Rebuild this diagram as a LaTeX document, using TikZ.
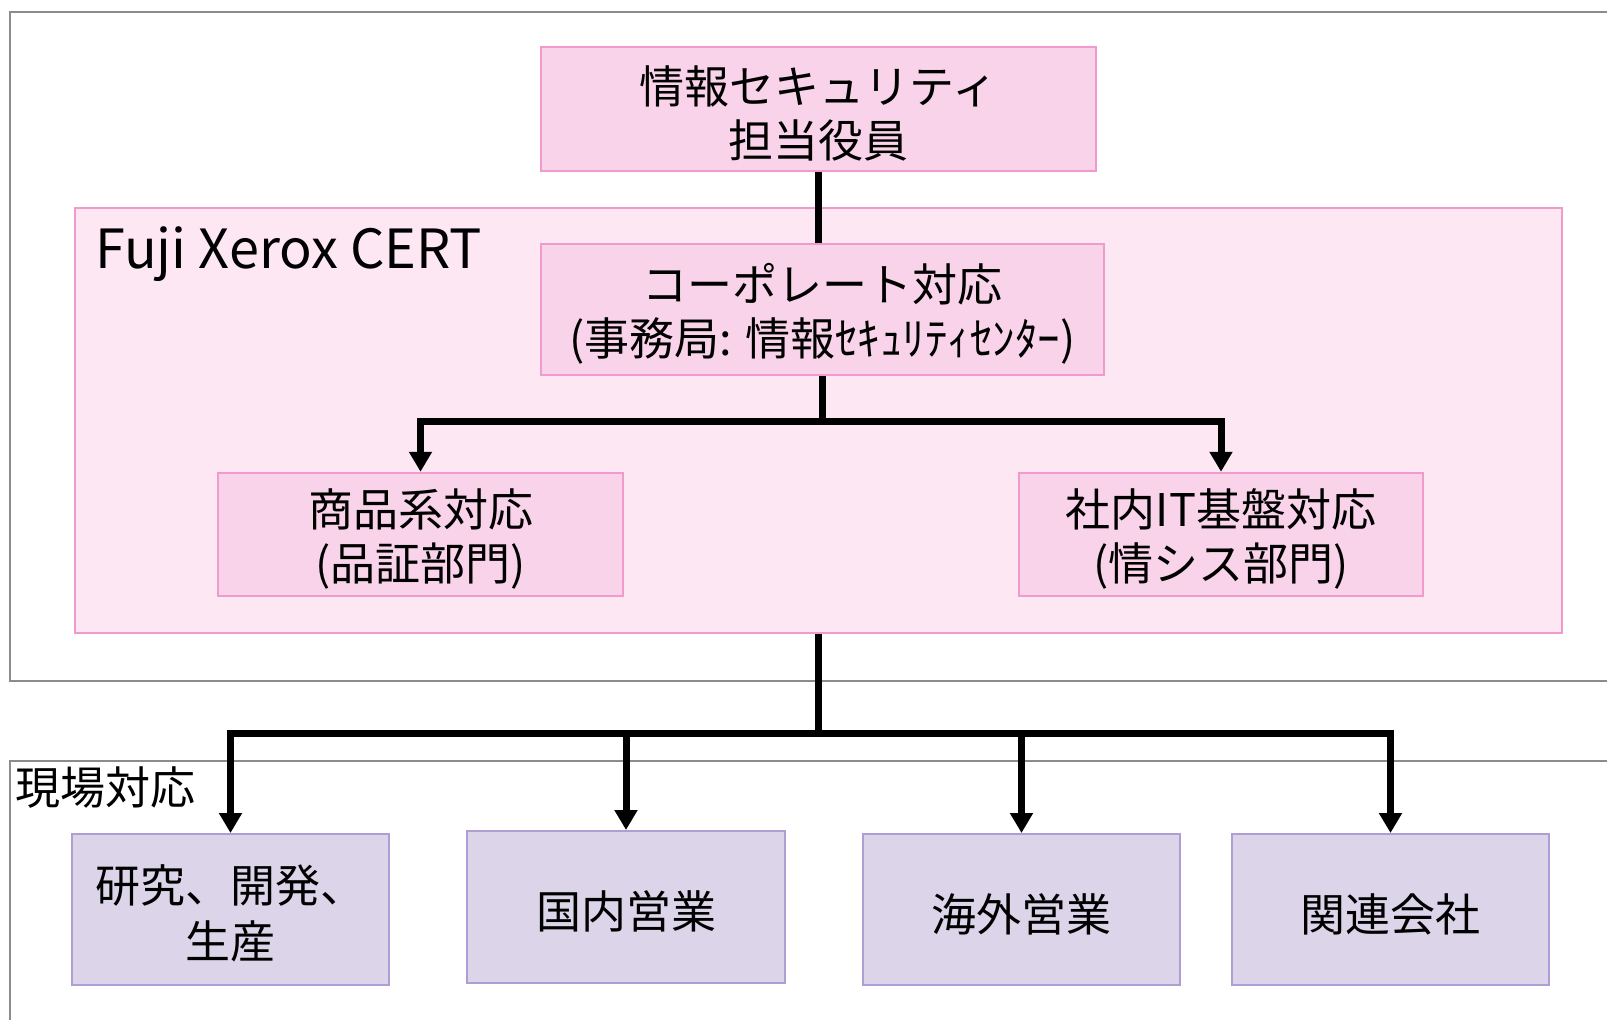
\documentclass[tikz,border=0pt]{standalone}
\usepackage{fontspec}
\setmainfont{Noto Sans CJK JP}
\usetikzlibrary{arrows.meta}
\definecolor{pinkfill}{HTML}{F8D3E9}
\definecolor{certfill}{HTML}{FCE7F3}
\definecolor{pinkline}{HTML}{F09BCB}
\definecolor{purfill}{HTML}{DCD5EA}
\definecolor{purline}{HTML}{AE9ED3}
\definecolor{grayline}{HTML}{8C8C8C}
\newcommand\lowfix{\rule{0pt}{46pt}}
\tikzset{
  pinkbox/.style={draw=pinkline, fill=pinkfill, line width=2.5pt, inner sep=0pt, align=center,
    font=\fontsize{45pt}{54pt}\selectfont},
  purbox/.style={draw=purline, fill=purfill, line width=2pt, inner sep=0pt, align=center,
    font=\fontsize{45pt}{56pt}\selectfont, execute at begin node={\rule{0pt}{47pt}}},
  certbox/.style={draw=pinkline, fill=certfill, line width=2.5pt, inner sep=0pt},
  framebox/.style={draw=grayline, line width=2pt},
  conn/.style={line width=7pt, draw=black, line join=miter},
  arr/.style={conn, -{Triangle[width=22pt,length=20pt]}},
}
\begin{document}
\begin{tikzpicture}[x=1pt,y=-1pt]
\useasboundingbox (0,0) rectangle (1607,1020);
\begin{scope}
\clip (0,0) rectangle (1607,1020);
\draw[framebox] (10,12) rectangle (1700,681);
\draw[framebox] (10,761) rectangle (1700,1100);
\end{scope}
\node[certbox, minimum width=1487pt, minimum height=425pt] (cert) at (818.5,420.5) {};
\node[anchor=base west, inner sep=0pt, font=\fontsize{54pt}{60pt}\selectfont] (certlabel) at (95,268) {Fuji Xerox CERT};
\node[anchor=base west, inner sep=0pt, font=\fontsize{45pt}{54pt}\selectfont] (genba) at (15,804) {現場対応};

\node[pinkbox, minimum width=555pt, minimum height=124pt] (top) at (818.5,109) {\lowfix 情報セキュリティ\\担当役員};
\node[pinkbox, minimum width=563pt, minimum height=131pt] (corp) at (822.5,309.5) {\lowfix コーポレート対応\\(事務局: 情報ｾｷｭﾘﾃｨｾﾝﾀｰ)};
\node[pinkbox, minimum width=405pt, minimum height=123pt] (qa) at (420.5,534.5) {\lowfix 商品系対応\\(品証部門)};
\node[pinkbox, minimum width=404pt, minimum height=123pt] (it) at (1221,534.5) {\lowfix 社内IT基盤対応\\(情シス部門)};

\node[purbox, minimum width=317pt, minimum height=151pt] (rd) at (230.5,909.5) {\lowfix 研究、開発、\\生産};
\node[purbox, minimum width=318pt, minimum height=152pt] (dom) at (626,907) {国内営業};
\node[purbox, minimum width=317pt, minimum height=151pt] (ovs) at (1021.5,909.5) {海外営業};
\node[purbox, minimum width=317pt, minimum height=151pt] (aff) at (1390.5,909.5) {関連会社};

\draw[conn] (top.south) -- (top.south |- corp.north);
\coordinate (j1) at (corp.south |- 0,421);
\draw[arr] (corp.south) -- (j1) -| (qa.north);
\draw[arr] (j1) -| (it.north);
\coordinate (j2) at (cert.south |- 0,733);
\draw[conn] (cert.south) -- (j2);
\draw[arr] (j2) -| (rd.north);
\draw[arr] (j2) -| (dom.north);
\draw[arr] (j2) -| (ovs.north);
\draw[arr] (j2) -| (aff.north);
\end{tikzpicture}
\end{document}
